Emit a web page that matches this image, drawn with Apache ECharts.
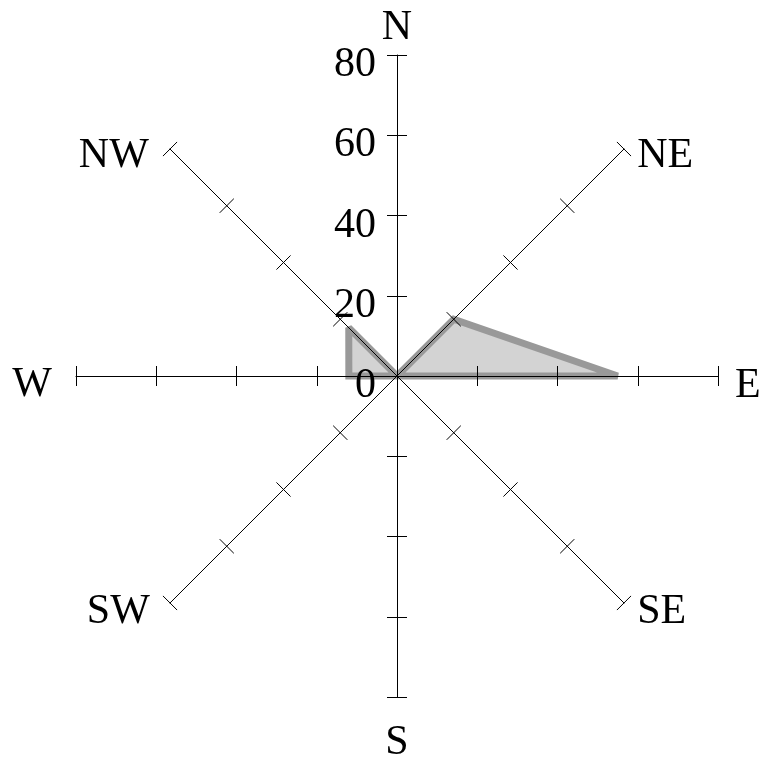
<!DOCTYPE html>
<html>
<head>
<meta charset="utf-8">
<script src="https://cdn.jsdelivr.net/npm/echarts@6/dist/echarts.min.js"></script>
<style>
  html, body { margin: 0; background: #fff; }
  #chart { width: 761px; height: 760px; }
</style>
</head>
<body>
<div id="chart"></div>
<script>
var directions = ['N', 'NE', 'E', 'SE', 'S', 'SW', 'W', 'NW']
var counts = [0, 20, 55, 0, 0, 0, 12, 17]
var axisMax = 80
var axisStep = 20

// radar lays its axes out counter-clockwise from the top, a compass goes clockwise
var order = [0, 7, 6, 5, 4, 3, 2, 1]
var values = order.map(function (i) { return counts[i] })

var font = 'Liberation Serif'
var center = [397, 376]
var radius = 321

// nudges for the direction names so they sit like the original
var namePad = {
  N: [0, 0, 0, 0],
  NE: [22, 0, 0, 9],
  E: [20, 0, 0, 11],
  SE: [10, 0, 0, 9],
  S: [19, 0, 0, 0],
  SW: [10, 16, 0, 0],
  W: [18, 18, 0, 0],
  NW: [22, 17, 0, 0]
}
var rich = {}
directions.forEach(function (d) {
  rich[d] = { color: '#000', fontFamily: font, fontSize: 42, padding: namePad[d] }
})

function indicators(withLabels) {
  return order.map(function (i) {
    var ind = { name: directions[i], min: 0, max: axisMax }
    if (withLabels && directions[i] === 'N') {
      ind.axisLabel = { show: true }
    }
    return ind
  })
}

var chart = echarts.init(document.getElementById('chart'), null, { renderer: 'canvas' })

chart.setOption({
  animation: false,
  backgroundColor: '#fff',
  radar: [
    {
      // main axes, one half of each tick, names and the N value labels
      center: center,
      radius: radius,
      startAngle: 90,
      splitNumber: axisMax / axisStep,
      indicator: indicators(true),
      z: 5,
      nameGap: 6,
      axisName: {
        color: '#000', fontFamily: font, fontSize: 42,
        formatter: function (name) { return '{' + name + '|' + name + '}' },
        rich: rich
      },
      axisLine: { show: true, lineStyle: { color: '#000', width: 1 } },
      axisTick: { show: true, length: 10, lineStyle: { color: '#000', width: 1 } },
      axisLabel: {
        show: false, color: '#000', fontFamily: font, fontSize: 42, margin: 21,
        formatter: function (v) { return '{v|' + v + '}' },
        rich: { v: { color: '#000', fontFamily: font, fontSize: 42, padding: [20, 0, 0, 0] } }
      },
      splitLine: { show: false },
      splitArea: { show: false }
    },
    {
      // same axes again, only for the other half of each tick
      center: center,
      radius: radius,
      startAngle: 90,
      splitNumber: axisMax / axisStep,
      indicator: indicators(false),
      z: 5,
      axisName: { show: false },
      axisLine: { show: false },
      axisTick: { show: true, length: -10, lineStyle: { color: '#000', width: 1 } },
      axisLabel: { show: false },
      splitLine: { show: false },
      splitArea: { show: false }
    }
  ],
  series: [
    {
      // fill
      type: 'radar',
      radarIndex: 0,
      z: 1,
      symbol: 'none',
      lineStyle: { width: 0 },
      areaStyle: { color: '#d3d3d3', opacity: 1 },
      data: [{ value: values }]
    },
    {
      // outline on top of the fill
      type: 'radar',
      radarIndex: 0,
      z: 2,
      symbol: 'none',
      lineStyle: { color: '#999999', width: 7, join: 'miter', miterLimit: 2 },
      data: [{ value: values }]
    }
  ]
})
</script>
</body>
</html>
